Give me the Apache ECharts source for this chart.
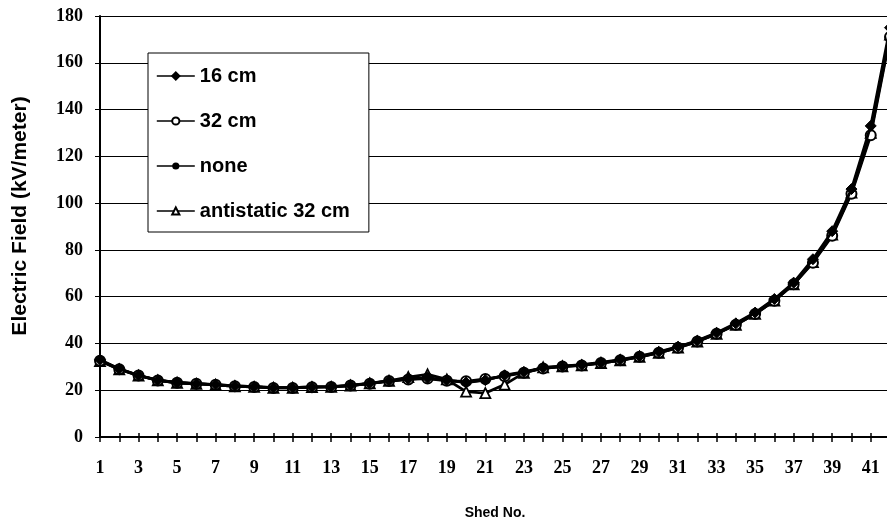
<!DOCTYPE html>
<html>
<head>
<meta charset="utf-8">
<script src="https://cdn.jsdelivr.net/npm/echarts@6/dist/echarts.min.js"></script>
<style>html,body{margin:0;padding:0;background:#fff;}#c{width:887px;height:522px;}</style>
</head>
<body>
<div id="c"></div>
<script>
var sheds = ['1','2','3','4','5','6','7','8','9','10','11','12','13','14','15','16','17','18','19','20','21','22','23','24','25','26','27','28','29','30','31','32','33','34','35','36','37','38','39','40','41','42'];
var yTicks = [0,20,40,60,80,100,120,140,160,180];
var s16cm = [33,29.2,26.4,24.3,23.3,22.8,22.4,21.8,21.5,21.1,21.1,21.4,21.5,22.1,23,24,24.9,25.3,24.3,23.3,24.3,26.4,27.8,29.6,30.3,30.9,31.9,33.1,34.6,36.4,38.6,41.2,44.6,48.6,53.2,59,66,76,88,106,133,175];
var s32cm = [32.6,29,26.3,24.2,23.2,22.8,22.3,21.7,21.4,21,21,21.3,21.4,22,22.8,23.9,24.6,25,24,23.8,24.8,26,27.5,29.3,30.1,30.6,31.6,32.8,34.3,36,38.2,40.8,44.1,48,52.6,58.3,65.3,74.5,86,104,129,171];
var sNone = [32.8,29.1,26.3,24.3,23.2,22.8,22.4,21.8,21.5,21.1,21.1,21.4,21.5,22,22.9,23.9,24.8,25.2,24.2,23.5,24.4,26.2,27.6,29.4,30.2,30.7,31.7,32.9,34.4,36.2,38.4,41,44.3,48.3,52.9,58.7,65.7,75.3,87,105,131,173];
var sAnti = [32.5,28.9,26.2,24.2,23.2,22.7,22.3,21.7,21.4,21,21,21.3,21.4,22,22.9,24,25.6,26.8,24.6,19.4,18.8,22.4,27.4,29.8,30.2,30.6,31.6,32.8,34.3,36,38.2,40.8,44.1,48,52.6,58.3,65.3,74.8,86.5,104.5,130,172];

var chart = echarts.init(document.getElementById('c'), null, {renderer:'canvas'});
var lineStyle = {color:'#000', width:2.8};
var legendFont = {fontFamily:'Liberation Sans, Arial', fontWeight:'bold', fontSize:20, color:'#000'};
chart.setOption({
  animation:false,
  backgroundColor:'#fff',
  grid:{left:100, right:-3, top:16, bottom:85, containLabel:false, outerBoundsMode:'none'},
  legend:{
    orient:'vertical', left:148, top:53,
    backgroundColor:'#fff', borderColor:'#000', borderWidth:1,
    padding:[13,19,11,8], itemGap:25, itemWidth:38, itemHeight:9,
    lineStyle:{width:1.6},
    textStyle:legendFont,
    data:['16 cm','32 cm','none','antistatic 32 cm']
  },
  xAxis:[{
    type:'category', data:sheds, boundaryGap:false,
    axisLine:{lineStyle:{color:'#000', width:2}},
    axisTick:{show:true, interval:0, length:5, inside:false, lineStyle:{color:'#000', width:1.5}},
    axisLabel:{interval:1, margin:22, fontFamily:'Liberation Serif, Times New Roman', fontWeight:'bold', fontSize:18, color:'#000'},
    splitLine:{show:false},
    name:'Shed No.', nameLocation:'middle', nameGap:69,
    nameTextStyle:{fontFamily:'Liberation Sans, Arial', fontWeight:'bold', fontSize:14, color:'#000'}
  },{
    type:'category', data:sheds, boundaryGap:false, position:'bottom',
    axisLine:{show:false},
    axisTick:{show:true, interval:0, length:4, inside:true, lineStyle:{color:'#000', width:1.5}},
    axisLabel:{show:false}, splitLine:{show:false}
  }],
  yAxis:{
    type:'value', min:0, max:180, interval:20,
    axisLine:{show:true, lineStyle:{color:'#000', width:2}},
    axisTick:{show:true, length:5, lineStyle:{color:'#000', width:1}},
    axisLabel:{margin:17, fontFamily:'Liberation Serif, Times New Roman', fontWeight:'bold', fontSize:18, color:'#000',
      formatter:function(v){ return yTicks.indexOf(v) >= 0 ? String(v) : ''; }},
    splitLine:{show:true, lineStyle:{color:'#000', width:1}}
  },
  graphic:[{
    type:'text', x:20, y:216, rotation:Math.PI/2,
    style:{text:'Electric Field (kV/meter)', fill:'#000', font:'bold 21px "Liberation Sans", Arial', align:'center', verticalAlign:'middle'}
  }],
  series:[
    {name:'antistatic 32 cm', type:'line', data:sAnti, symbol:'triangle', symbolSize:10, showAllSymbol:true,
      lineStyle:lineStyle, itemStyle:{color:'#fff', borderColor:'#000', borderWidth:1.8}, z:2},
    {name:'none', type:'line', data:sNone, symbol:'none',
      lineStyle:lineStyle, itemStyle:{color:'#000'}, z:3},
    {name:'32 cm', type:'line', data:s32cm, symbol:'circle', symbolSize:10, showAllSymbol:true,
      lineStyle:lineStyle, itemStyle:{color:'#fff', borderColor:'#000', borderWidth:2}, z:4},
    {name:'16 cm', type:'line', data:s16cm, symbol:'diamond', symbolSize:11, showAllSymbol:true,
      lineStyle:lineStyle, itemStyle:{color:'#000', borderColor:'#000', borderWidth:1}, z:5}
  ]
});
</script>
</body>
</html>
